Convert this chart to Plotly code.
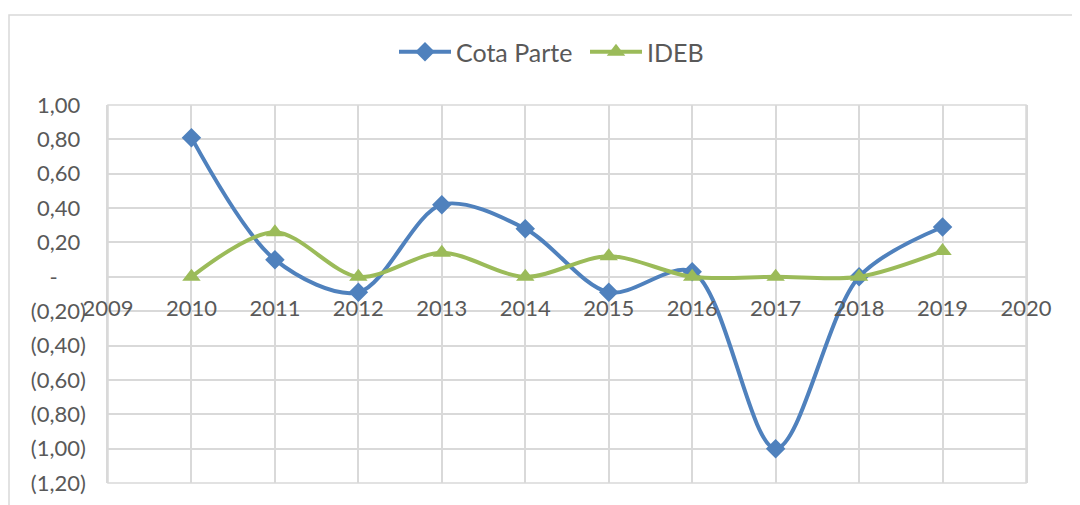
import plotly.graph_objects as go

years = [2010, 2011, 2012, 2013, 2014, 2015, 2016, 2017, 2018, 2019]
cota_parte = [0.81, 0.10, -0.09, 0.42, 0.28, -0.09, 0.03, -1.00, 0.00, 0.29]
ideb = [0.00, 0.26, 0.00, 0.14, 0.00, 0.12, 0.00, 0.00, 0.00, 0.15]

x_ticks = list(range(2009, 2021))
y_ticks = [1.0, 0.8, 0.6, 0.4, 0.2, 0.0, -0.2, -0.4, -0.6, -0.8, -1.0, -1.2]
y_labels = ["1,00\u00a0", "0,80\u00a0", "0,60\u00a0", "0,40\u00a0", "0,20\u00a0", "-\u00a0\u00a0\u00a0\u00a0\u00a0",
            "(0,20)", "(0,40)", "(0,60)", "(0,80)", "(1,00)", "(1,20)"]

font_family = "Lato, 'Open Sans', sans-serif"
text_color = "#595959"
grid_color = "#d9d9d9"
fs = 22

fig = go.Figure()
fig.add_trace(go.Scatter(
    x=years, y=cota_parte, name="Cota Parte", mode="lines+markers",
    line=dict(color="#4f81bd", width=4, shape="spline", smoothing=0.9),
    marker=dict(symbol="diamond", size=15, color="#4f81bd"),
))
fig.add_trace(go.Scatter(
    x=years, y=ideb, name="IDEB", mode="lines+markers",
    line=dict(color="#9bbb59", width=4, shape="spline", smoothing=0.9),
    marker=dict(symbol="triangle-up", size=16, color="#9bbb59"),
))

# page body adds an 8px margin; work in layout coordinates
OFF = 8
W, H = 1080 - OFF, 505 - OFF
L, R, T, B = 108 - OFF, 1026 - OFF, 105 - OFF, 483 - OFF
pw, ph = R - L, B - T

fig.update_layout(
    width=W, height=H,
    margin=dict(l=L, r=W - R, t=T, b=H - B, pad=0, autoexpand=False),
    paper_bgcolor="white", plot_bgcolor="white",
    font=dict(family=font_family, size=fs, color=text_color),
    showlegend=True,
    legend=dict(orientation="h", x=(394 - OFF) / W, xref="container", xanchor="left",
                y=1 - (52 - OFF) / H, yref="container", yanchor="middle",
                font=dict(size=25, color=text_color), itemwidth=52, entrywidth=124,
                bgcolor="rgba(0,0,0,0)"),
    xaxis=dict(
        range=[2009, 2020], tickvals=x_ticks, ticktext=[str(v) for v in x_ticks],
        showgrid=True, gridcolor=grid_color, gridwidth=1.5,
        showline=False, zeroline=False, ticks="", automargin=False,
        anchor="free", position=(0 - (-1.2)) / 2.2, ticklabelstandoff=16,
        tickfont=dict(size=fs, color=text_color),
    ),
    yaxis=dict(
        range=[-1.2, 1.0], tickvals=y_ticks, ticktext=y_labels,
        showgrid=True, gridcolor=grid_color, gridwidth=1.5,
        showline=True, linecolor=grid_color, linewidth=1.5, mirror=True,
        zeroline=False, ticks="", ticklabelstandoff=16, automargin=False,
        tickfont=dict(size=fs, color=text_color),
    ),
    shapes=[
        dict(type="rect", xref="paper", yref="paper",
             x0=(9 - 108) / pw, x1=(1090 - 108) / pw,
             y0=(483 - 520) / ph, y1=(483 - 15) / ph,
             line=dict(color="#d9d9d9", width=1.5), fillcolor="rgba(0,0,0,0)", layer="below"),
        dict(type="rect", xref="paper", yref="paper", x0=0, x1=1, y0=0, y1=1,
             line=dict(color=grid_color, width=1.5), fillcolor="rgba(0,0,0,0)", layer="below"),
    ],
)

fig.write_html("out.html")
